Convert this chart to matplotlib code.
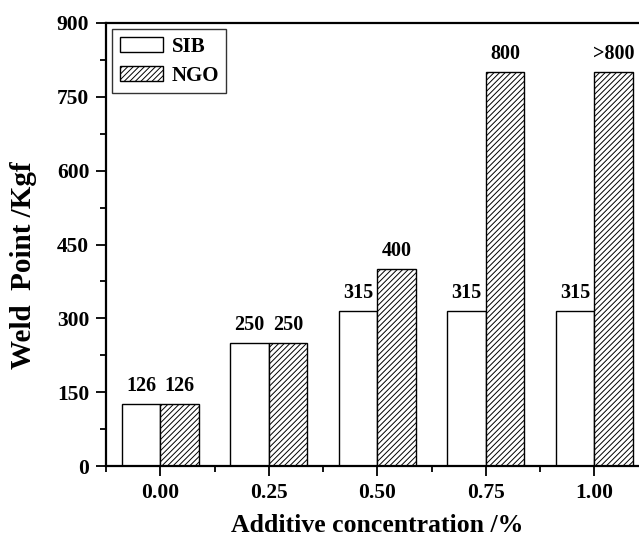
import numpy as np
import matplotlib.pyplot as plt
from matplotlib.ticker import MultipleLocator, FixedLocator

plt.rcParams['font.family'] = ['Liberation Serif', 'DejaVu Serif']
plt.rcParams['font.weight'] = 'bold'
plt.rcParams['hatch.linewidth'] = 0.7

categories = ['0.00', '0.25', '0.50', '0.75', '1.00']
sib = [126, 250, 315, 315, 315]
ngo = [126, 250, 400, 800, 800]
sib_labels = ['126', '250', '315', '315', '315']
ngo_labels = ['126', '250', '400', '800', '>800']

fig = plt.figure(figsize=(6.39, 5.42), dpi=100)
# axes run past the right edge, as in the cropped original
ax = fig.add_axes([106 / 639, 76 / 542, 542.5 / 639, 443 / 542])

x = np.arange(len(categories))
w = 0.355
b1 = ax.bar(x - w / 2, sib, w, color='white', edgecolor='black', linewidth=1.0, label='SIB')
b2 = ax.bar(x + w / 2, ngo, w, color='white', edgecolor='black', linewidth=1.0,
            hatch='//////', label='NGO')

for rect, lab in zip(b1, sib_labels):
    ax.text(rect.get_x() + rect.get_width() / 2, rect.get_height() + 16, lab,
            ha='center', va='bottom', fontsize=14.5, fontweight='bold')
for rect, lab in zip(b2, ngo_labels):
    ax.text(rect.get_x() + rect.get_width() / 2, rect.get_height() + 16, lab,
            ha='center', va='bottom', fontsize=14.5, fontweight='bold')

ax.set_xlim(-0.5, 4.5)
ax.set_ylim(0, 900)
ax.set_xticks(x)
ax.set_xticklabels(categories)
ax.xaxis.set_minor_locator(FixedLocator(np.arange(-0.5, 4.6, 1.0)))
ax.yaxis.set_major_locator(MultipleLocator(150))
ax.yaxis.set_minor_locator(MultipleLocator(75))
ax.tick_params(axis='both', which='major', direction='out', length=7, width=1.3,
               labelsize=15.5, pad=5)
ax.tick_params(axis='both', which='minor', direction='out', length=4, width=1.3)
for lab in ax.get_xticklabels() + ax.get_yticklabels():
    lab.set_fontweight('bold')
ax.tick_params(axis='x', which='major', pad=5)

for s in ax.spines.values():
    s.set_linewidth(1.6)

ax.set_xlabel('Additive concentration /%', fontsize=18.5, fontweight='bold', labelpad=8)
ax.set_ylabel('Weld  Point /Kgf', fontsize=21, fontweight='bold')
ax.yaxis.set_label_coords(-0.128, 0.454)

leg = ax.legend(loc='upper left', bbox_to_anchor=(0.0, 1.0), borderaxespad=0.3,
                fontsize=15, frameon=True, fancybox=False, edgecolor='black',
                handlelength=2.1, handleheight=0.75, borderpad=0.35, labelspacing=0.45,
                handletextpad=0.4)
leg.get_frame().set_linewidth(1.0)
for t in leg.get_texts():
    t.set_fontweight('bold')

fig.savefig('out.png', dpi=100)
